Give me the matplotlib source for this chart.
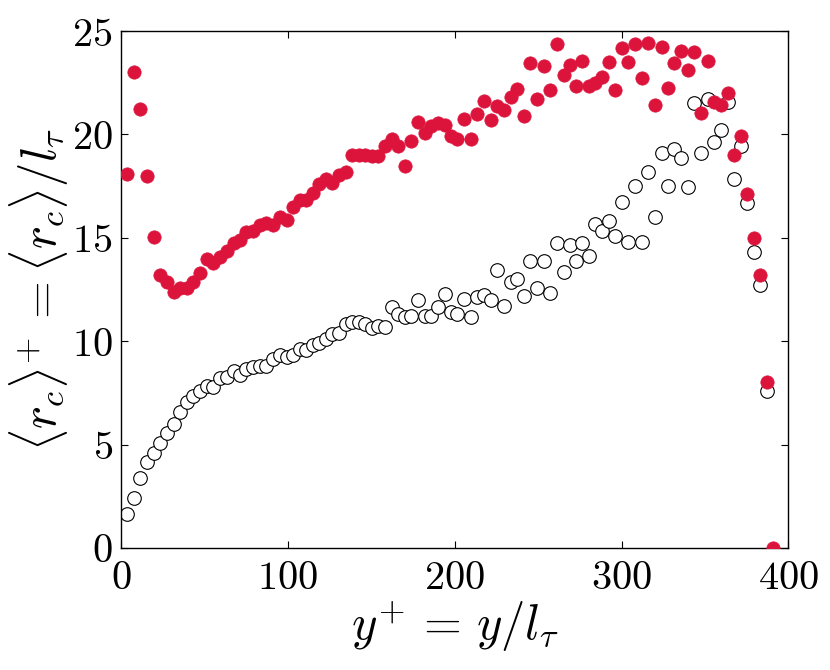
import matplotlib
matplotlib.use("Agg")
import matplotlib.pyplot as plt
from matplotlib.ticker import FuncFormatter, FixedLocator

plt.rcParams['mathtext.fontset'] = 'cm'
plt.rcParams['font.family'] = ['DejaVu Serif']

# y+ positions (shared by both series)
y_plus = [3.8, 7.6, 11.6, 15.7, 19.5, 23.5, 27.7, 31.5, 35.5, 39.6,
          43.4, 47.2, 51.4, 55.4, 59.4, 63.5, 67.5, 71.5, 75.2, 79.2,
          83.2, 87.2, 91.3, 95.3, 99.3, 103.1, 107.1, 111.1, 115.2, 118.6,
          122.6, 126.6, 130.9, 134.6, 138.6, 142.5, 146.5, 150.4, 154.3, 158.1,
          162.2, 166.1, 170.1, 174.1, 178.0, 182.0, 186.0, 190.0, 194.0, 197.6,
          201.6, 205.6, 209.6, 213.6, 217.6, 221.6, 225.6, 229.6, 233.6, 237.2,
          241.3, 245.2, 249.2, 253.3, 257.2, 261.3, 265.3, 268.9, 272.7, 276.5,
          280.7, 284.4, 288.4, 292.6, 296.2, 300.2, 304.1, 308.2, 312.2, 316.1,
          320.1, 324.2, 327.8, 331.7, 335.7, 339.7, 343.7, 347.7, 351.7, 355.7,
          359.7, 363.6, 367.5, 371.4, 375.4, 379.3, 383.1, 387.1, 391.1]

# red filled series
rc_red = [18.09, 23.0, 21.25, 18.0, 15.03, 13.19, 12.84, 12.4, 12.56, 12.56,
          12.87, 13.29, 13.97, 13.77, 14.06, 14.34, 14.77, 14.9, 15.29, 15.35,
          15.6, 15.7, 15.63, 16.03, 15.87, 16.48, 16.84, 16.84, 17.16, 17.6,
          17.84, 17.64, 18.05, 18.18, 19.01, 19.01, 19.01, 18.96, 18.96, 19.42,
          19.77, 19.45, 18.45, 19.66, 20.62, 20.06, 20.42, 20.55, 20.46, 19.9,
          19.79, 20.75, 19.77, 20.98, 21.63, 20.7, 21.38, 21.19, 21.79, 22.2,
          20.87, 23.45, 21.72, 23.33, 22.16, 24.38, 22.85, 23.37, 22.35, 23.53,
          22.32, 22.48, 22.77, 23.48, 22.16, 24.17, 23.5, 24.38, 22.72, 24.42,
          21.43, 24.25, 22.24, 23.45, 24.01, 23.13, 23.98, 21.03, 23.53, 21.59,
          21.43, 22.0, 19.01, 19.93, 17.11, 15.01, 13.21, 8.02, 0.0]

# open circle series
rc_open = [1.63, 2.40, 3.40, 4.18, 4.61, 5.09, 5.58, 6.0, 6.6, 7.08,
           7.35, 7.61, 7.84, 7.77, 8.21, 8.26, 8.58, 8.37, 8.64, 8.74,
           8.8, 8.8, 9.13, 9.34, 9.26, 9.34, 9.61, 9.58, 9.82, 9.9,
           10.1, 10.34, 10.42, 10.84, 10.92, 10.92, 10.82, 10.63, 10.74, 10.71,
           11.64, 11.32, 11.16, 11.24, 12.0, 11.22, 11.22, 11.64, 12.27, 11.43,
           11.32, 12.03, 11.19, 12.16, 12.24, 12.0, 13.42, 11.71, 12.85, 13.0,
           12.19, 13.9, 12.56, 13.9, 12.32, 14.77, 13.37, 14.66, 13.88, 14.77,
           14.13, 15.67, 15.34, 15.83, 15.09, 16.72, 14.82, 17.51, 14.79, 18.18,
           16.03, 19.09, 17.51, 19.29, 18.85, 17.48, 21.54, 19.09, 21.71, 19.62,
           20.22, 21.59, 17.82, 19.43, 16.69, 14.31, 12.72, 7.61]

x_ticks = [0, 100, 200, 300, 400]
y_ticks = [0, 5, 10, 15, 20, 25]

fig = plt.figure(figsize=(8.3, 6.7), dpi=100)
ax = fig.add_axes([0.1458, 0.1821, 0.804, 0.7716])

ax.plot(y_plus[:len(rc_open)], rc_open, ls='none', marker='o', ms=9.8,
        mfc='white', mec='black', mew=0.8, zorder=2)
ax.plot(y_plus, rc_red, ls='none', marker='o', ms=9.6,
        mfc='#DC143C', mec='#DC143C', mew=0.5, zorder=3)

ax.set_xlim(0, 400)
ax.set_ylim(0, 25)
ax.xaxis.set_major_locator(FixedLocator(x_ticks))
ax.yaxis.set_major_locator(FixedLocator(y_ticks))
fmt = FuncFormatter(lambda v, p: r'$%d$' % v)
ax.xaxis.set_major_formatter(fmt)
ax.yaxis.set_major_formatter(fmt)
ax.tick_params(direction='in', top=True, right=True, length=5, width=0.8,
               labelsize=29)
ax.tick_params(axis='x', pad=9)
ax.tick_params(axis='y', pad=6)
for s in ax.spines.values():
    s.set_linewidth(1.0)

ax.set_xlabel(r'$y^{+}\,=\,y/l_{\tau}$', fontsize=35, labelpad=1)
ax.set_ylabel(r'$\langle r_c\rangle^{+}\,=\langle r_c\rangle/l_{\tau}$', fontsize=35, labelpad=1)

fig.savefig('out.png', dpi=100)
